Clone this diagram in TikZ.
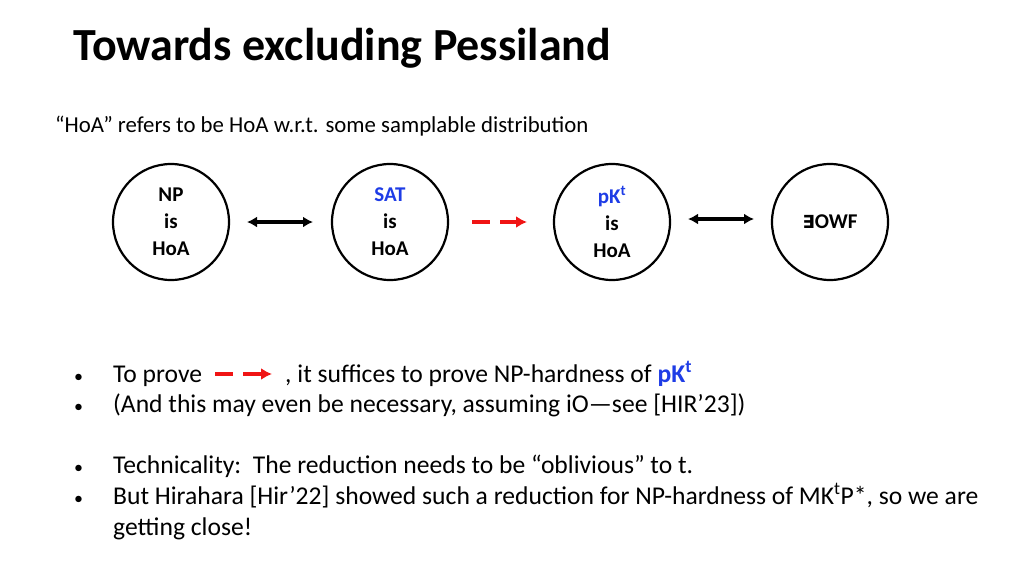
\documentclass[tikz,border=0pt]{standalone}
\usepackage{fontspec}
\setmainfont{Carlito}
\newfontfamily\dejavu{DejaVu Sans}
\usetikzlibrary{arrows.meta}
\definecolor{myblue}{RGB}{30,60,230}
\definecolor{myred}{RGB}{240,20,20}
\begin{document}
\begin{tikzpicture}[x=1pt,y=-1pt,
  circ/.style={draw,circle,line width=2.2pt,minimum size=116pt,inner sep=0pt,align=center,font=\fontsize{21}{27}\selectfont\bfseries},
  txt/.style={anchor=base west,inner sep=0pt,font=\fontsize{25.6}{30}\selectfont}]
\useasboundingbox (0,0) rectangle (1024,576);
\node[anchor=base west,inner sep=0pt,font=\fontsize{46}{52}\selectfont\bfseries] (title) at (73,60) {Towards excluding Pessiland};
\node[anchor=base west,inner sep=0pt,font=\fontsize{22.8}{26}\selectfont] (sub) at (55,132) {“HoA” refers to be HoA w.r.t. some samplable distribution};
\node[circ] (np) at (171,222) {NP\\is\\HoA};
\node[circ] (sat) at (390,222) {\textcolor{myblue}{SAT}\\is\\HoA};
\node[circ] (pk) at (612,222) {\textcolor{myblue}{pK\textsuperscript{t}}\\is\\HoA};
\node[circ] (owf) at (830,222) {{\dejavu\fontsize{18}{20}\selectfont ∃}OWF};
\coordinate (a1) at (247,222); \coordinate (a2) at (313,222);
\draw[line width=3.5pt,{Latex[length=10pt,width=11pt]}-{Latex[length=10pt,width=11pt]}] (a1) -- (a2);
\coordinate (b1) at (688,219); \coordinate (b2) at (754,219);
\draw[line width=3.5pt,{Latex[length=10pt,width=11pt]}-{Latex[length=10pt,width=11pt]}] (b1) -- (b2);
\coordinate (r1) at (472,222); \coordinate (r2) at (490,222);
\coordinate (r3) at (500,222); \coordinate (r4) at (527,222);
\draw[myred,line width=3.5pt] (r1) -- (r2);
\draw[myred,line width=3.5pt,-{Latex[length=11pt,width=12pt]}] (r3) -- (r4);
\foreach \y/\n in {382/p1,412/p2,473/p3,504/p4}{\node[txt,font=\fontsize{18}{20}\selectfont] (\n) at (74,\y) {•};}
\node[txt] (t1) at (113,382) {To prove};
\coordinate (s1) at (215,374); \coordinate (s2) at (233,374);
\coordinate (s3) at (243,374); \coordinate (s4) at (272,374);
\draw[myred,line width=3.5pt] (s1) -- (s2);
\draw[myred,line width=3.5pt,-{Latex[length=11pt,width=12pt]}] (s3) -- (s4);
\node[txt] (t1b) at (285,382) {, it suffices to prove NP-hardness of \textbf{\textcolor{myblue}{pK\textsuperscript{t}}}};
\node[txt] (t2) at (113,412) {(And this may even be necessary, assuming iO—see [HIR’23])};
\node[txt] (t3) at (113,473) {Technicality:\ \ The reduction needs to be “oblivious” to t.};
\node[txt] (t4) at (113,504) {But Hirahara [Hir’22] showed such a reduction for NP-hardness of MK\textsuperscript{t}P*, so we are};
\node[txt] (t5) at (113,535) {getting close!};
\end{tikzpicture}
\end{document}
